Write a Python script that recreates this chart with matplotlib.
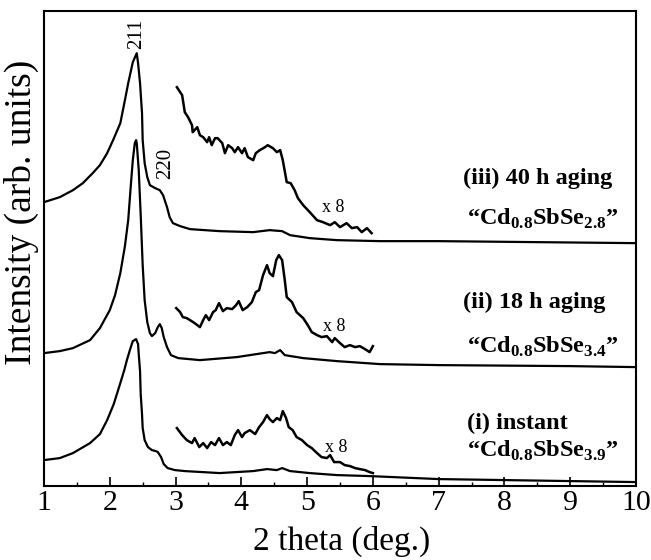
#!/usr/bin/env python3
"""XRD patterns of Cd-Sb-Se samples after different aging times."""

import matplotlib
matplotlib.use("Agg")
import matplotlib.pyplot as plt
from matplotlib.ticker import MultipleLocator

plt.rcParams["font.family"] = ["Liberation Serif", "DejaVu Serif"]
plt.rcParams["mathtext.fontset"] = "custom"
plt.rcParams["mathtext.rm"] = "Liberation Serif"
plt.rcParams["mathtext.bf"] = "Liberation Serif:bold"

# (i) instant
x_i = [1.00, 1.24, 1.44, 1.70, 1.85, 1.96, 2.06, 2.16, 2.22, 2.26, 2.31, 2.35,
       2.40, 2.43, 2.44, 2.46, 2.47, 2.49, 2.50, 2.53, 2.58, 2.64, 2.70, 2.73,
       2.78, 2.82, 2.88, 2.99, 3.14, 3.67, 4.18, 4.39, 4.54, 4.62, 4.74, 5.04,
       5.45, 5.95, 7.00, 8.00, 9.00, 10.00]
y_i = [26, 28, 33, 43, 52, 66, 82, 103, 116, 126, 137, 145,
       147, 142, 132, 115, 92, 72, 58, 46, 39, 36, 35, 34,
       29, 22, 18, 16, 15, 13, 15, 17, 16, 18, 15, 13,
       11, 10, 7, 6, 5, 4]

# (ii) 18 h aging
x_ii = [1.00, 1.24, 1.44, 1.70, 1.85, 2.00, 2.08, 2.16, 2.23, 2.28, 2.32, 2.35,
        2.38, 2.40, 2.41, 2.44, 2.47, 2.50, 2.53, 2.57, 2.61, 2.64, 2.69, 2.73,
        2.76, 2.79, 2.82, 2.87, 2.93, 3.04, 3.37, 3.93, 4.33, 4.43, 4.51, 4.59,
        4.66, 4.94, 5.45, 6.11, 7.00, 9.00, 10.00]
y_ii = [133, 135, 138, 146, 158, 176, 191, 213, 240, 266, 301, 326,
        343, 346, 343, 316, 271, 221, 186, 164, 153, 150, 153, 159,
        162, 158, 149, 139, 131, 128, 126, 129, 133, 134, 133, 136,
        131, 128, 125, 122, 121, 120, 119]

# (iii) 40 h aging
x_iii = [1.00, 1.24, 1.44, 1.59, 1.74, 1.85, 1.96, 2.05, 2.16, 2.23, 2.28, 2.35,
         2.41, 2.43, 2.46, 2.49, 2.50, 2.53, 2.57, 2.61, 2.69, 2.76, 2.81, 2.87,
         2.91, 2.96, 3.07, 3.22, 3.67, 4.18, 4.43, 4.62, 4.74, 5.04, 5.45, 6.11,
         7.00, 10.00]
y_iii = [284, 289, 296, 303, 313, 321, 333, 346, 363, 386, 403, 424,
         433, 423, 403, 373, 346, 323, 309, 301, 298, 296, 291, 279,
         269, 263, 260, 257, 255, 254, 256, 255, 251, 248, 246, 245,
         245, 243]

# x8 magnified segments (3-6 deg)
x_i8 = [3.02, 3.10, 3.17, 3.25, 3.29, 3.36, 3.42, 3.48, 3.54, 3.60, 3.66, 3.72,
        3.78, 3.84, 3.90, 3.95, 4.01, 4.05, 4.13, 4.21, 4.27, 4.33, 4.39, 4.43,
        4.48, 4.54, 4.59, 4.63, 4.68, 4.72, 4.78, 4.84, 4.92, 5.00, 5.07, 5.15,
        5.22, 5.30, 5.35, 5.41, 5.50, 5.57, 5.65, 5.73, 5.80, 5.88, 5.95, 6.00]
y_i8 = [58, 51, 46, 43, 48, 39, 43, 38, 44, 41, 48, 41,
        44, 41, 51, 56, 49, 53, 56, 52, 59, 64, 71, 67,
        64, 68, 66, 75, 68, 59, 56, 49, 46, 41, 38, 33,
        29, 28, 31, 24, 24, 21, 20, 18, 17, 16, 14, 13]

x_ii8 = [3.01, 3.07, 3.11, 3.17, 3.22, 3.29, 3.37, 3.42, 3.46, 3.51, 3.57, 3.61,
         3.66, 3.72, 3.78, 3.86, 3.92, 3.96, 4.02, 4.09, 4.16, 4.22, 4.27, 4.33,
         4.39, 4.43, 4.48, 4.53, 4.57, 4.62, 4.66, 4.69, 4.77, 4.84, 4.94, 5.01,
         5.07, 5.15, 5.22, 5.30, 5.38, 5.42, 5.50, 5.57, 5.65, 5.73, 5.80, 5.88,
         5.95, 6.00]
y_ii8 = [178, 174, 169, 168, 166, 163, 159, 166, 171, 166, 174, 176,
         183, 175, 178, 177, 181, 185, 176, 179, 184, 194, 196, 211,
         221, 213, 210, 226, 231, 226, 206, 189, 184, 174, 168, 161,
         154, 151, 149, 150, 144, 148, 143, 139, 141, 139, 140, 137,
         134, 140]

x_iii8 = [3.02, 3.10, 3.14, 3.19, 3.25, 3.26, 3.33, 3.37, 3.42, 3.48, 3.51, 3.55,
          3.60, 3.64, 3.71, 3.75, 3.80, 3.86, 3.90, 3.95, 4.01, 4.05, 4.10, 4.18,
          4.22, 4.28, 4.36, 4.40, 4.48, 4.54, 4.59, 4.63, 4.69, 4.75, 4.81, 4.86,
          4.94, 5.04, 5.15, 5.24, 5.35, 5.42, 5.50, 5.60, 5.68, 5.76, 5.83, 5.91,
          5.98]
y_iii8 = [399, 391, 374, 369, 361, 354, 359, 351, 349, 344, 349, 341,
          348, 348, 343, 333, 341, 338, 334, 339, 333, 338, 329, 326,
          333, 336, 339, 341, 338, 334, 336, 326, 304, 303, 296, 288,
          281, 274, 266, 264, 261, 264, 259, 263, 258, 259, 254, 258,
          253]

main_curves = [(x_i, y_i), (x_ii, y_ii), (x_iii, y_iii)]
zoom_curves = [(x_i8, y_i8), (x_ii8, y_ii8), (x_iii8, y_iii8)]

fig = plt.figure(figsize=(6.51, 5.60), dpi=100)
ax = fig.add_axes([0.0676, 0.132, 0.9094, 0.848])

for xs, ys in main_curves:
    ax.plot(xs, ys, color="black", linewidth=1.6, solid_joinstyle="round")
for xs, ys in zoom_curves:
    ax.plot(xs, ys, color="black", linewidth=1.8, solid_joinstyle="round")

ax.set_xlim(1, 10)
ax.set_ylim(0, 475)
ax.xaxis.set_major_locator(MultipleLocator(1))
ax.xaxis.set_minor_locator(MultipleLocator(0.5))
ax.set_yticks([])
ax.tick_params(axis="x", which="major", direction="in", length=6.5, width=1.2,
               labelsize=21.5, pad=3, top=False)
ax.tick_params(axis="x", which="minor", direction="in", length=3.2, width=1.0,
               top=False)
for sp in ax.spines.values():
    sp.set_linewidth(1.5)

# peak indices
ax.text(2.41, 452, "211", rotation=90, ha="center", va="center", fontsize=15)
ax.text(2.85, 323, "220", rotation=90, ha="center", va="center", fontsize=15)

for xm, ym in [(5.39, 279), (5.41, 160), (5.44, 39)]:
    ax.text(xm, ym, "x 8", ha="center", va="center", fontsize=13)

labels = [
    (7.37, 308, "(iii) 40 h aging"),
    (7.43, 267, r"“Cd$_{\mathbf{0.8}}$SbSe$_{\mathbf{2.8}}$”"),
    (7.37, 184, "(ii) 18 h aging"),
    (7.43, 139, r"“Cd$_{\mathbf{0.8}}$SbSe$_{\mathbf{3.4}}$”"),
    (7.43, 63, "(i) instant"),
    (7.43, 35, r"“Cd$_{\mathbf{0.8}}$SbSe$_{\mathbf{3.9}}$”"),
]
for xl, yl, s in labels:
    ax.text(xl, yl, s, ha="left", va="center", fontsize=17.5, fontweight="bold")

fig.text(21.5 / 651, 1 - 212 / 560, "Intensity (arb. units)", rotation=90,
         ha="center", va="center", fontsize=27)
fig.text(342 / 651, 1 - 541 / 560, "2 theta (deg.)", ha="center", va="center",
         fontsize=24)

fig.savefig("out.png", dpi=100)
